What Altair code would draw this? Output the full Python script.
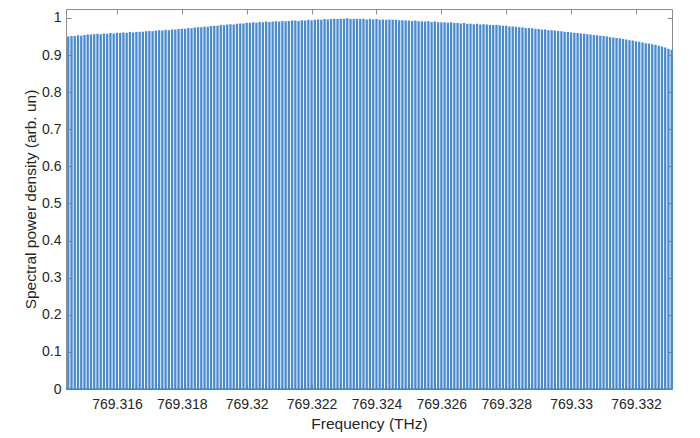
import altair as alt
import pandas as pd

# Comb line amplitudes, one per comb tooth
amps = [
    0.950, 0.951, 0.951, 0.953, 0.952, 0.954, 0.955, 0.955,
    0.956, 0.957, 0.956, 0.958, 0.957, 0.959, 0.958, 0.960, 0.959, 0.961, 0.960, 0.962, 0.961,
    0.962, 0.963, 0.963, 0.964, 0.965, 0.964, 0.966, 0.967, 0.966, 0.968, 0.967, 0.969,
    0.969, 0.970, 0.971, 0.971, 0.973, 0.972, 0.974, 0.975, 0.975, 0.977, 0.976, 0.978,
    0.979, 0.979, 0.981, 0.980, 0.982, 0.983, 0.982, 0.984, 0.985, 0.985, 0.987,
    0.987, 0.988, 0.987, 0.989, 0.988, 0.990, 0.989, 0.990, 0.991, 0.990, 0.992, 0.991, 0.992, 0.993,
    0.993, 0.992, 0.994, 0.993, 0.995, 0.994, 0.995, 0.996, 0.995, 0.997, 0.996, 0.997, 0.998, 0.997, 0.998,
    0.998, 0.999, 0.997, 0.998, 0.998, 0.997, 0.998, 0.996, 0.997, 0.996, 0.997, 0.995, 0.996, 0.995, 0.996, 0.995,
    0.995, 0.994, 0.994, 0.993, 0.993, 0.992, 0.993, 0.991, 0.991, 0.990, 0.991, 0.989, 0.990, 0.988, 0.988,
    0.988, 0.987, 0.988, 0.986, 0.986, 0.985, 0.986, 0.984, 0.984, 0.983, 0.984, 0.982, 0.983, 0.982, 0.981, 0.981,
    0.981, 0.980, 0.979, 0.979, 0.977, 0.977, 0.976, 0.975, 0.975, 0.973, 0.973, 0.972,
    0.971, 0.970, 0.969, 0.969, 0.967, 0.967, 0.966, 0.965, 0.964, 0.963, 0.962, 0.961,
    0.960, 0.959, 0.958, 0.957, 0.956, 0.955, 0.954, 0.953, 0.952, 0.951, 0.950, 0.948, 0.947,
    0.946, 0.945, 0.943, 0.942, 0.940, 0.939, 0.937, 0.936, 0.934, 0.932, 0.931, 0.929,
    0.928, 0.925, 0.923, 0.920, 0.917, 0.914,
]

# Comb grid: first tooth and tooth spacing (THz)
first_tooth = 769.3145
tooth_spacing = 0.0001
freqs = [round(first_tooth + tooth_spacing * i, 5) for i in range(len(amps))]

x_ticks = [769.316, 769.318, 769.32, 769.322, 769.324, 769.326, 769.328, 769.33, 769.332]
y_ticks = [0, 0.1, 0.2, 0.3, 0.4, 0.5, 0.6, 0.7, 0.8, 0.9, 1]
x_domain = [769.31443, 769.33311]
y_domain = [0, 1.024]

df = pd.DataFrame({"f": freqs, "a": amps, "z": [0] * len(amps)})
base_df = pd.DataFrame({"y": [0]})

xs = alt.Scale(domain=x_domain, nice=False, zero=False)
ys = alt.Scale(domain=y_domain, nice=False, zero=True)

TICK = 5

x_bottom = alt.Axis(values=x_ticks, format=".9~g", offset=-TICK, tickSize=TICK,
                    labelPadding=8, title="Frequency (THz)", titlePadding=5)
y_left = alt.Axis(values=y_ticks, format="~g", offset=-TICK, tickSize=TICK,
                  labelPadding=5, title="Spectral power density (arb. un)", titlePadding=3)
x_top = alt.Axis(orient="top", values=x_ticks, offset=-TICK, tickSize=TICK,
                 labels=False, title=None)
y_right = alt.Axis(orient="right", values=y_ticks, offset=-TICK, tickSize=TICK,
                   labels=False, title=None)

lines = alt.Chart(df).mark_rule(color="#4a8bcf", strokeWidth=2.3).encode(
    x=alt.X("f:Q", scale=xs, axis=x_bottom),
    y=alt.Y("a:Q", scale=ys, axis=y_left),
    y2="z:Q",
)

baseline = alt.Chart(base_df).mark_rule(color="#2f78c0", strokeWidth=1).encode(
    y=alt.Y("y:Q", scale=ys, axis=None),
)

frame_axes = alt.Chart(df).mark_point(opacity=0).encode(
    x=alt.X("f:Q", scale=xs, axis=x_top),
    y=alt.Y("a:Q", scale=ys, axis=y_right),
)

chart = (
    alt.layer(lines, baseline, frame_axes)
    .resolve_axis(x="independent", y="independent")
    .properties(
        width=606,
        height=380,
        autosize=alt.AutoSizeParams(type="none"),
        padding={"left": 58, "top": 1, "right": 10, "bottom": 47},
    )
    .configure_axis(
        labelFont="Liberation Sans",
        titleFont="Liberation Sans",
        labelFontSize=14,
        titleFontSize=15.5,
        titleFontWeight="normal",
        labelColor="#262626",
        titleColor="#262626",
        tickColor="#8c8c8c",
        domain=False,
        grid=False,
    )
    .configure_view(stroke="#8c8c8c", strokeWidth=1)
)

chart.save("out.html", embed_options={"renderer": "svg", "actions": False})
